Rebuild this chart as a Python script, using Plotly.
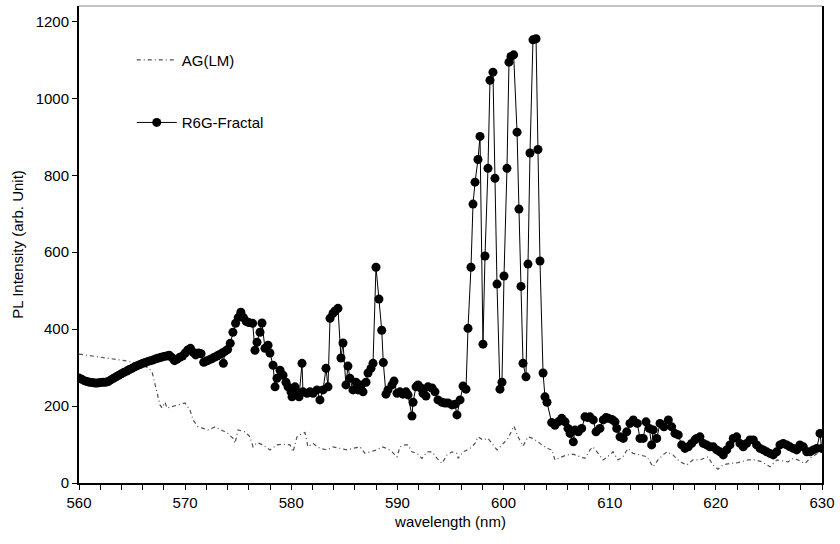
import plotly.graph_objects as go

# ---------------- data ----------------
# R6G-Fractal: wavelength (nm) and PL intensity (arb. unit)
R6G_WL = [
    560.00, 560.25, 560.50, 560.75, 561.00, 561.25, 561.50, 561.75, 562.00, 562.25,
    562.50, 562.75, 563.00, 563.25, 563.50, 563.75, 564.00, 564.25, 564.50, 564.75,
    565.00, 565.25, 565.50, 565.75, 566.00, 566.25, 566.50, 566.75, 567.00, 567.25,
    567.50, 567.75, 568.00, 568.25, 568.50, 568.75, 569.00, 569.25, 569.50, 569.75,
    570.00, 570.25, 570.50, 570.75, 571.00, 571.25, 571.50, 571.75, 572.00, 572.25,
    572.50, 572.75, 573.00, 573.25, 573.50, 573.60, 573.75, 574.00, 574.25, 574.50,
    574.75, 575.00, 575.25, 575.50, 575.75, 576.00,
    576.36, 576.58, 576.77, 577.05, 577.24, 577.52, 577.81, 577.99, 578.28, 578.47,
    578.65, 578.94, 579.22, 579.50, 579.69, 579.97, 580.07, 580.35, 580.54, 580.73,
    581.01, 581.10, 581.48, 581.76, 582.05, 582.42, 582.70, 582.99, 583.27, 583.46,
    583.65, 583.93, 584.12, 584.40, 584.68, 584.87, 585.15, 585.34, 585.53, 585.81,
    586.10, 586.28, 586.57, 586.76, 587.04, 587.23, 587.51, 587.70, 587.98, 588.26,
    588.52, 588.67, 588.92, 589.11, 589.49, 589.68, 589.96, 590.24, 590.52, 590.81,
    591.00, 591.37, 591.47, 591.75, 591.94, 592.22, 592.41, 592.69, 592.88, 593.26,
    593.54, 593.82, 594.20, 594.48, 594.76, 595.14, 595.42, 595.61, 595.90, 596.18,
    596.46, 596.65, 596.93, 597.12, 597.31, 597.59, 597.78, 598.06, 598.25, 598.53,
    598.72, 599.00, 599.19, 599.38, 599.66, 599.85, 600.04, 600.32, 600.51, 600.70,
    600.95, 601.27, 601.45, 601.64, 601.83, 602.11, 602.30, 602.49, 602.77, 603.06,
    603.24, 603.43, 603.72, 603.90, 604.09,
    604.53, 604.84, 605.16, 605.48, 605.79, 606.07, 606.26, 606.57, 606.73, 607.04,
    607.36, 607.67, 607.95, 608.14, 608.45, 608.71, 609.08, 609.39, 609.65, 609.87,
    610.21, 610.50, 610.66, 610.97, 611.28, 611.60, 611.91, 612.22, 612.60, 612.85,
    613.16, 613.42, 613.73, 613.95, 614.10, 614.43, 614.74, 615.11, 615.52, 615.84,
    616.15, 616.46, 616.78, 617.09, 617.40, 617.72, 618.03, 618.19, 618.50, 618.82,
    619.13, 619.44, 619.76, 620.08, 620.39, 620.70, 621.02, 621.33, 621.64, 621.96,
    622.27, 622.58, 622.90, 623.21, 623.53, 623.84, 624.16, 624.47, 624.79, 625.10,
    625.41, 625.73, 626.04, 626.35, 626.67, 626.98, 627.30, 627.61, 627.92, 628.24,
    628.56, 628.87, 629.18, 629.50, 629.81, 629.97,
]
R6G_PL = [
    273, 270, 266, 264, 262, 261, 260, 260, 261, 262,
    262, 264, 268, 272, 276, 280, 284, 288, 291, 295,
    298, 302, 305, 308, 311, 313, 316, 318, 320, 323,
    325, 327, 329, 330, 332, 326, 318, 322, 327, 330,
    338, 346, 350, 340, 333, 338, 336, 314, 317, 320,
    323, 327, 330, 334, 338, 311, 342, 347, 363, 392,
    415, 430, 444, 430, 420, 417,
    415, 345, 366, 392, 416, 350, 358, 338, 306, 250,
    272, 293, 280, 262, 250, 237, 224, 250, 233, 224,
    311, 237, 233, 237, 233, 242, 216, 242, 298, 250,
    428, 441, 447, 454, 325, 364, 255, 304, 272, 242,
    262, 242, 255, 237, 262, 286, 298, 311, 561, 478,
    397, 313, 231, 242, 255, 265, 233, 237, 231, 237,
    229, 174, 210, 250, 255, 247, 233, 226, 250, 247,
    237, 216, 210, 208, 208, 203, 205, 177, 216, 252,
    244, 402, 561, 725, 782, 841, 901, 361, 590, 818,
    1047, 1068, 792, 517, 244, 262, 538, 818, 1094, 1109,
    1113, 912, 712, 511, 311, 276, 569, 858, 1152, 1155,
    867, 577, 286, 224, 210,
    157, 150, 159, 168, 159, 142, 129, 107, 138, 133,
    142, 172, 170, 172, 164, 133, 142, 164, 170, 168,
    165, 159, 142, 120, 116, 133, 155, 164, 155, 116,
    116, 159, 142, 99, 138, 116, 155, 146, 164, 146,
    129, 125, 99, 90, 94, 103, 112, 116, 120, 103,
    99, 94, 94, 86, 81, 73, 86, 99, 116, 120,
    103, 94, 103, 112, 112, 99, 90, 86, 81, 77,
    73, 81, 99, 103, 99, 94, 90, 86, 99, 94,
    81, 81, 86, 90, 129, 90,
]

# AG(LM): wavelength (nm) and PL intensity (arb. unit)
AG_WL = [
    560.00, 560.57, 561.51, 562.45, 563.39, 564.33, 565.09, 565.94, 566.50, 566.88,
    567.16, 567.44, 567.63, 567.82, 568.10, 568.29, 568.76, 569.33, 569.99, 570.46,
    570.74, 571.21, 571.68, 572.15, 572.81, 573.47, 574.04, 574.51, 574.70, 574.98,
    575.64, 576.11, 576.39, 576.77, 577.33, 577.99, 578.65, 579.22, 579.88, 580.16,
    580.54, 581.01, 581.29, 581.57, 582.05, 582.70, 583.36, 583.93, 584.59, 585.25,
    585.81, 586.47, 586.94, 587.42, 588.07, 588.55, 589.02, 589.49, 589.96, 590.24,
    590.71, 591.00, 591.37, 591.84, 592.31, 592.79, 593.26, 593.73, 594.20, 594.67,
    595.14, 595.61, 595.71, 596.18, 596.84, 597.31, 597.59, 598.06, 598.53, 598.91,
    599.38, 599.85, 600.42, 600.98, 601.36, 601.83, 602.30, 602.77, 603.43, 604.09,
    604.56, 604.84, 605.50, 605.97, 606.54, 607.20, 607.67, 608.14, 608.42, 608.80,
    609.37, 610.03, 610.31, 610.78, 611.25, 611.72, 612.19, 612.85, 613.51, 614.08,
    614.55, 615.02, 615.40, 615.96, 616.62, 617.28, 617.84, 618.50, 619.26, 619.73,
    620.20, 620.67, 621.33, 622.08, 623.03, 623.69, 624.35, 625.10, 625.76, 626.23,
    626.80, 627.27, 627.74, 628.40, 628.87, 629.34, 629.81, 630.37,
]
AG_PL = [
    335, 333, 329, 326, 322, 318, 313, 306, 300, 289,
    259, 224, 203, 195, 210, 195, 198, 203, 208, 190,
    164, 146, 142, 138, 146, 138, 129, 116, 103, 138,
    133, 120, 94, 105, 99, 86, 99, 101, 99, 81,
    120, 129, 131, 94, 103, 90, 86, 94, 90, 86,
    90, 94, 77, 81, 86, 94, 90, 81, 68, 94,
    99, 99, 81, 77, 64, 81, 81, 64, 51, 73,
    81, 77, 64, 81, 90, 103, 120, 112, 116, 103,
    86, 99, 116, 148, 120, 96, 120, 116, 103, 90,
    86, 60, 68, 73, 75, 68, 64, 86, 94, 81,
    60, 73, 81, 60, 68, 90, 77, 73, 68, 42,
    60, 73, 81, 73, 55, 47, 60, 60, 68, 47,
    36, 47, 51, 53, 60, 60, 55, 42, 60, 58,
    55, 64, 60, 51, 64, 73, 81, 146,
]

X_TICKS = [560, 570, 580, 590, 600, 610, 620, 630]
Y_TICKS = [0, 200, 400, 600, 800, 1000, 1200]

FONT = "Liberation Sans, Arial, sans-serif"

fig = go.Figure()

fig.add_trace(go.Scatter(
    x=AG_WL, y=AG_PL, mode="lines", name="AG(LM)",
    line=dict(color="#505050", width=1.2, dash="4px,3px,1px,3px"),
    legendgroup="ag",
))

fig.add_trace(go.Scatter(
    x=R6G_WL, y=R6G_PL, mode="lines+markers", name="R6G-Fractal",
    line=dict(color="black", width=1),
    marker=dict(color="black", size=9, symbol="circle"),
    legendgroup="r6g",
))

fig.update_layout(
    width=840, height=544,
    margin=dict(l=79, r=18, t=6, b=61),
    paper_bgcolor="white", plot_bgcolor="white",
    font=dict(family=FONT, size=15, color="black"),
    showlegend=True,
    legend=dict(
        x=0.071, y=0.921, xanchor="left", yanchor="top",
        bgcolor="rgba(0,0,0,0)", borderwidth=0,
        font=dict(family=FONT, size=15, color="black"),
        tracegroupgap=40, traceorder="grouped", itemwidth=40,
    ),
    xaxis=dict(
        range=[560, 630], tickvals=X_TICKS, ticktext=[str(v) for v in X_TICKS],
        showgrid=False, zeroline=False, automargin=False,
        showline=True, linecolor="black", linewidth=2,
        ticks="outside", ticklen=5, tickwidth=1, tickcolor="black",
        minor=dict(dtick=2, tick0=560, ticks="outside", ticklen=5,
                   tickwidth=1, tickcolor="black", showgrid=False),
        title=dict(text="wavelength (nm)", font=dict(size=15), standoff=6),
        tickfont=dict(size=15),
    ),
    yaxis=dict(
        range=[0, 1240], tickvals=Y_TICKS, ticktext=[str(v) for v in Y_TICKS],
        showgrid=False, zeroline=False, automargin=False,
        showline=True, linecolor="black", linewidth=2, mirror=True,
        ticks="outside", ticklen=5, tickwidth=1, tickcolor="black",
        title=dict(text="PL Intensity (arb. Unit)", font=dict(size=15), standoff=8),
        tickfont=dict(size=15),
    ),
    shapes=[dict(type="line", xref="paper", yref="paper", x0=0, x1=1, y0=1, y1=1,
                 line=dict(color="#888888", width=1))],
)

fig.write_html("out.html", config={"displayModeBar": False},
               post_script="document.body.style.margin='0px';")
